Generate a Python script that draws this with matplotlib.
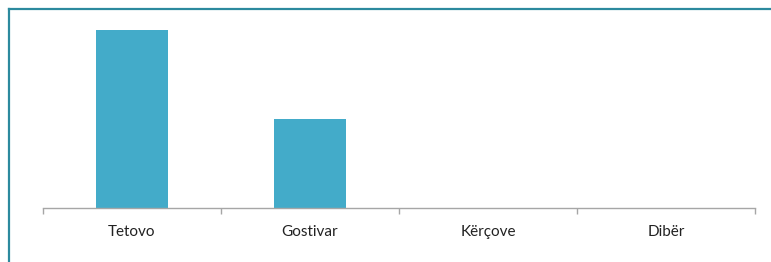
import matplotlib
matplotlib.use("Agg")
import matplotlib.pyplot as plt
from matplotlib.lines import Line2D
import numpy as np

categories = ["Tetovo", "Gostivar", "Kërçove", "Dibër"]
values = [2, 1, 0, 0]

BAR_COLOR = "#43ABC9"
AXIS_COLOR = "#A6A6A6"
FRAME_COLOR = "#2C8A9E"

W, H = 771, 262
fig = plt.figure(figsize=(W / 100, H / 100), dpi=100)
ax = fig.add_axes([43 / W, (H - 208) / H, (755 - 43) / W, (208 - 30) / H])

x = np.arange(len(categories))
ax.bar(x, values, width=0.4, color=BAR_COLOR)
ax.set_xlim(-0.5, len(categories) - 0.5)
ax.set_ylim(0, 2)

for side in ("top", "right", "left"):
    ax.spines[side].set_visible(False)
ax.spines["bottom"].set_color(AXIS_COLOR)
ax.spines["bottom"].set_linewidth(1.0)
ax.set_yticks([])

# category boundaries as ticks, labels centred under each bar
ax.set_xticks(np.arange(-0.5, len(categories), 1.0))
ax.set_xticklabels([])
ax.tick_params(axis="x", length=4, color=AXIS_COLOR, width=1.0)
ax.set_xticks(x, minor=True)
ax.set_xticklabels(categories, minor=True, fontsize=11, family=["Lato", "DejaVu Sans"],
                   color="#222222")
ax.tick_params(axis="x", which="minor", length=0, pad=12)

# outer frame (top and left edges)
fig.add_artist(Line2D([9 / W, 1], [1 - 9 / H, 1 - 9 / H], transform=fig.transFigure,
                      color=FRAME_COLOR, linewidth=1.6))
fig.add_artist(Line2D([9 / W, 9 / W], [0, 1 - 9 / H], transform=fig.transFigure,
                      color=FRAME_COLOR, linewidth=1.6))

fig.savefig("out.png", dpi=100)
